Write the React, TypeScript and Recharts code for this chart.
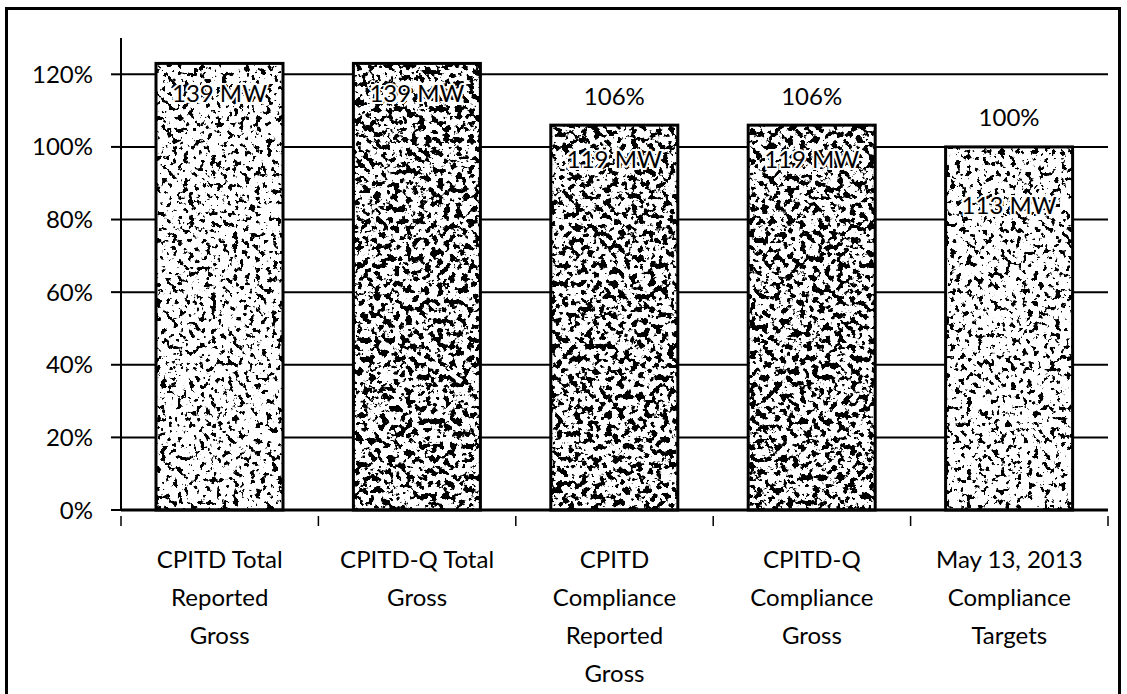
import { BarChart, Bar, XAxis, YAxis, CartesianGrid, LabelList } from 'recharts'

const categories = [
  'CPITD Total\nReported\nGross',
  'CPITD-Q Total\nGross',
  'CPITD\nCompliance\nReported\nGross',
  'CPITD-Q\nCompliance\nGross',
  'May 13, 2013\nCompliance\nTargets',
]
const shares = [1.23, 1.23, 1.06, 1.06, 1.0]
const pctLabels = ['', '', '106%', '106%', '100%']
const mwLabels = ['139 MW', '139 MW', '119 MW', '119 MW', '113 MW']
const yTicks = [0, 0.2, 0.4, 0.6, 0.8, 1.0, 1.2]

// how far below the bar top each MW label sits (as in the source)
const mwOffsets = [29, 29, 33, 33, 58]
const FONT = 'Lato, "Open Sans", sans-serif'

const data = categories.map((name, i) => ({
  name,
  share: shares[i],
  pct: pctLabels[i],
  mw: mwLabels[i],
}))

function SpeckleBar(props: any) {
  const { x, y, width, height, index } = props
  const f = index === 0 || index === 4 ? 'speckleLight' : 'speckleDark'
  return (
    <g>
      <rect x={x} y={y} width={width} height={height} fill="#fff" />
      <rect x={x} y={y} width={width} height={height} fill="#000" filter={`url(#${f})`} />
      <rect x={x} y={y} width={width} height={height} fill="none" stroke="#000" strokeWidth={3} />
    </g>
  )
}

function CategoryTick(props: any) {
  const { x, y, payload, index } = props
  const lines = String(payload.value).split('\n')
  const half = 98.7
  return (
    <g>
      <line x1={x - half} y1={y - 2} x2={x - half} y2={y + 8} stroke="#000" strokeWidth={1.5} />
      {index === categories.length - 1 && (
        <line x1={x + half} y1={y - 2} x2={x + half} y2={y + 8} stroke="#000" strokeWidth={1.5} />
      )}
      {lines.map((l, i) => (
        <text
          key={i}
          x={x}
          y={y + 40 + i * 38}
          textAnchor="middle"
          dominantBaseline="central"
          fontSize={24}
          fontFamily={FONT}
          fill="#000"
        >
          {l}
        </text>
      ))}
    </g>
  )
}

function PctLabel(props: any) {
  const { x, y, width, value } = props
  if (!value) return null
  return (
    <text x={x + width / 2} y={y - 30} textAnchor="middle" dominantBaseline="central" fontSize={24} fontFamily={FONT} fill="#000">
      {value}
    </text>
  )
}

function MwLabel(props: any) {
  const { x, y, width, value, index } = props
  return (
    <text
      x={x + width / 2}
      y={y + mwOffsets[index]}
      textAnchor="middle"
      dominantBaseline="central"
      fontSize={24}
      fontFamily={FONT}
      fill="#000"
      stroke="#fff"
      strokeWidth={4}
      paintOrder="stroke"
    >
      {value}
    </text>
  )
}

export default function App() {
  return (
    <div style={{ position: 'absolute', left: 0, top: 0, width: 1127, height: 694, overflow: 'hidden', background: '#fff' }}>
      <div
        style={{
          position: 'absolute',
          left: 5,
          top: 7,
          width: 1110,
          height: 720,
          border: '3px solid #000',
        }}
      />
      <div style={{ position: 'absolute', left: 0, top: 0 }}>
        <BarChart
          width={1127}
          height={694}
          data={data}
          margin={{ top: 38, right: 19, left: 0, bottom: 0 }}
          barCategoryGap={35}
          style={{ fontFamily: FONT }}
        >
          <defs>
            <filter id="speckleLight" x="0" y="0" width="1" height="1">
              <feTurbulence type="fractalNoise" baseFrequency="0.18" numOctaves={3} seed={3} result="n" />
              <feColorMatrix in="n" type="matrix" values="0 0 0 0 0  0 0 0 0 0  0 0 0 0 0  -22 0 0 0 9.2" result="a" />
              <feComposite in="a" in2="SourceGraphic" operator="in" />
            </filter>
            <filter id="speckleDark" x="0" y="0" width="1" height="1">
              <feTurbulence type="fractalNoise" baseFrequency="0.16" numOctaves={3} seed={7} result="n" />
              <feColorMatrix in="n" type="matrix" values="0 0 0 0 0  0 0 0 0 0  0 0 0 0 0  -22 0 0 0 10.6" result="a" />
              <feComposite in="a" in2="SourceGraphic" operator="in" />
            </filter>
          </defs>
          <CartesianGrid
            vertical={false}
            stroke="#000"
            strokeWidth={2}
            horizontalValues={yTicks}
          />
          <XAxis
            dataKey="name"
            height={184}
            interval={0}
            axisLine={{ stroke: '#000', strokeWidth: 3 }}
            tickLine={false}
            tick={<CategoryTick />}
          />
          <YAxis
            width={121}
            domain={[0, 1.3]}
            ticks={yTicks}
            tickFormatter={(v: number) => `${Math.round(v * 100)}%`}
            axisLine={{ stroke: '#000', strokeWidth: 2 }}
            tickLine={{ stroke: '#000', strokeWidth: 2 }}
            tickSize={10}
            tickMargin={18}
            tick={{ fill: '#000', fontSize: 24, fontFamily: FONT }}
          />
          <Bar dataKey="share" shape={<SpeckleBar />} isAnimationActive={false}>
            <LabelList dataKey="pct" content={<PctLabel />} />
            <LabelList dataKey="mw" content={<MwLabel />} />
          </Bar>
        </BarChart>
      </div>
    </div>
  )
}
